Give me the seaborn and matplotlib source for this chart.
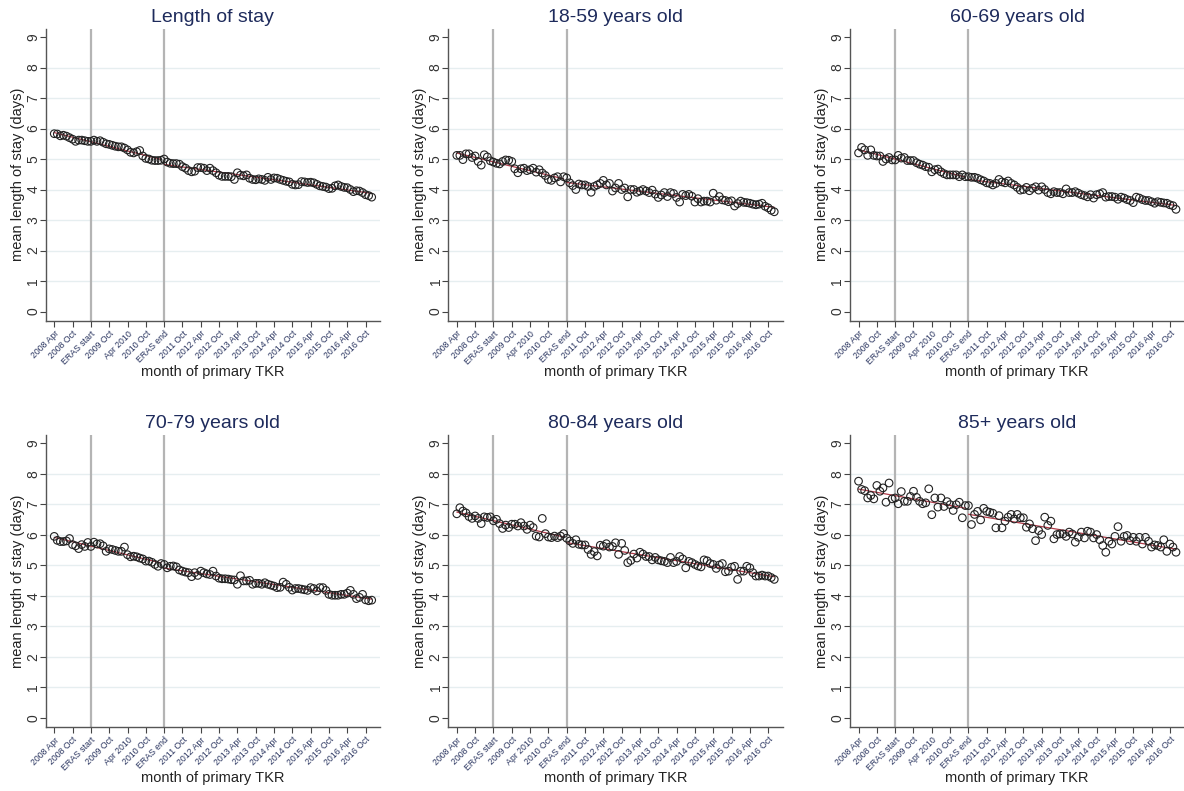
import numpy as np
import pandas as pd
import matplotlib
matplotlib.use("Agg")
import matplotlib.pyplot as plt
import seaborn as sns

# months since 2008 Apr (0 .. 104 -> 2016 Dec)
months = list(range(105))
eras_start = 12
eras_end = 36

tick_pos = [0, 6, 12, 18, 24, 30, 36, 42, 48, 54, 60, 66, 72, 78, 84, 90, 96, 102]
tick_labels = ['2008 Apr', '2008 Oct', 'ERAS start', '2009 Oct', 'Apr 2010', '2010 Oct',
               'ERAS end', '2011 Oct', '2012 Apr', '2012 Oct', '2013 Apr', '2013 Oct',
               '2014 Apr', '2014 Oct', '2015 Apr', '2015 Oct', '2016 Apr', '2016 Oct']

titles = ['Length of stay', '18-59 years old', '60-69 years old',
          '70-79 years old', '80-84 years old', '85+ years old']

los_all = [5.83, 5.82, 5.76, 5.78, 5.75, 5.70, 5.65, 5.58, 5.62, 5.62, 5.60, 5.58,
           5.58, 5.62, 5.58, 5.60, 5.55, 5.50, 5.48, 5.45, 5.42, 5.40, 5.40, 5.36,
           5.30, 5.22, 5.20, 5.24, 5.28, 5.10, 5.02, 5.00, 4.96, 4.95, 4.95, 4.96,
           5.00, 4.90, 4.86, 4.85, 4.85, 4.83, 4.75, 4.70, 4.62, 4.58, 4.60, 4.72,
           4.72, 4.70, 4.62, 4.70, 4.62, 4.55, 4.47, 4.43, 4.43, 4.43, 4.42, 4.33,
           4.55, 4.47, 4.45, 4.48, 4.37, 4.33, 4.32, 4.35, 4.33, 4.30, 4.40, 4.33,
           4.38, 4.37, 4.33, 4.30, 4.27, 4.25, 4.17, 4.15, 4.16, 4.26, 4.25, 4.23,
           4.24, 4.22, 4.17, 4.12, 4.10, 4.08, 4.03, 4.04, 4.12, 4.15, 4.10, 4.07,
           4.06, 4.00, 3.93, 3.96, 3.95, 3.90, 3.83, 3.80, 3.75]

los_18_59 = [5.12, 5.12, 4.98, 5.17, 5.17, 5.05, 5.10, 4.92, 4.80, 5.14, 5.07, 4.94,
             4.90, 4.86, 4.84, 4.92, 4.97, 4.96, 4.92, 4.68, 4.55, 4.68, 4.70, 4.62,
             4.65, 4.70, 4.57, 4.65, 4.54, 4.46, 4.33, 4.30, 4.38, 4.42, 4.25, 4.42,
             4.38, 4.22, 4.13, 4.00, 4.18, 4.15, 4.15, 4.10, 3.91, 4.10, 4.15, 4.20,
             4.30, 4.15, 4.20, 3.95, 4.05, 4.20, 4.00, 4.05, 3.76, 4.00, 4.00, 3.91,
             3.95, 4.00, 3.95, 3.90, 3.98, 3.85, 3.74, 3.82, 3.90, 3.77, 3.90, 3.87,
             3.74, 3.59, 3.84, 3.80, 3.84, 3.78, 3.59, 3.70, 3.59, 3.62, 3.62, 3.59,
             3.88, 3.65, 3.77, 3.66, 3.64, 3.60, 3.63, 3.46, 3.54, 3.62, 3.58, 3.57,
             3.55, 3.52, 3.50, 3.52, 3.55, 3.45, 3.40, 3.32, 3.27]

los_60_69 = [5.20, 5.38, 5.30, 5.12, 5.30, 5.12, 5.10, 5.10, 4.92, 5.00, 5.05, 4.97,
             4.97, 5.12, 5.03, 5.05, 4.95, 4.95, 4.95, 4.88, 4.83, 4.80, 4.75, 4.73,
             4.58, 4.65, 4.67, 4.58, 4.52, 4.48, 4.48, 4.48, 4.48, 4.42, 4.48, 4.42,
             4.42, 4.40, 4.40, 4.37, 4.32, 4.28, 4.22, 4.20, 4.15, 4.20, 4.33, 4.25,
             4.22, 4.28, 4.20, 4.15, 4.07, 3.98, 4.00, 4.07, 3.96, 4.04, 4.09, 3.98,
             4.09, 4.00, 3.90, 3.86, 3.93, 3.90, 3.90, 3.86, 4.02, 3.90, 3.90, 3.93,
             3.88, 3.83, 3.80, 3.76, 3.83, 3.72, 3.83, 3.86, 3.90, 3.75, 3.77, 3.77,
             3.75, 3.68, 3.75, 3.72, 3.67, 3.64, 3.57, 3.75, 3.72, 3.67, 3.64, 3.64,
             3.60, 3.55, 3.60, 3.58, 3.56, 3.55, 3.50, 3.47, 3.35]

los_70_79 = [5.95, 5.82, 5.78, 5.78, 5.80, 5.88, 5.68, 5.64, 5.55, 5.68, 5.62, 5.75,
             5.62, 5.76, 5.70, 5.71, 5.64, 5.46, 5.54, 5.52, 5.49, 5.46, 5.46, 5.60,
             5.35, 5.28, 5.30, 5.28, 5.24, 5.21, 5.14, 5.14, 5.10, 5.03, 4.97, 5.06,
             5.03, 4.92, 4.97, 4.98, 4.95, 4.85, 4.81, 4.78, 4.76, 4.63, 4.76, 4.67,
             4.81, 4.76, 4.72, 4.70, 4.81, 4.65, 4.58, 4.56, 4.56, 4.55, 4.53, 4.52,
             4.38, 4.66, 4.49, 4.49, 4.51, 4.38, 4.41, 4.41, 4.38, 4.43, 4.38, 4.35,
             4.32, 4.27, 4.28, 4.45, 4.38, 4.28, 4.19, 4.24, 4.24, 4.22, 4.20, 4.18,
             4.27, 4.24, 4.16, 4.27, 4.27, 4.18, 4.05, 4.02, 4.02, 4.02, 4.05, 4.05,
             4.09, 4.18, 4.05, 3.91, 3.95, 4.05, 3.87, 3.84, 3.86]

los_80_84 = [6.69, 6.89, 6.78, 6.72, 6.60, 6.54, 6.62, 6.54, 6.37, 6.59, 6.57, 6.59,
             6.46, 6.51, 6.37, 6.21, 6.32, 6.24, 6.35, 6.35, 6.29, 6.40, 6.29, 6.18,
             6.32, 6.24, 5.96, 5.93, 6.54, 6.04, 5.93, 5.91, 5.96, 5.91, 5.96, 6.04,
             5.89, 5.80, 5.72, 5.84, 5.69, 5.67, 5.67, 5.52, 5.36, 5.45, 5.31, 5.66,
             5.63, 5.71, 5.60, 5.62, 5.74, 5.36, 5.72, 5.49, 5.09, 5.16, 5.37, 5.24,
             5.43, 5.37, 5.29, 5.29, 5.18, 5.26, 5.18, 5.15, 5.13, 5.09, 5.26, 5.09,
             5.13, 5.29, 5.21, 4.92, 5.13, 5.09, 5.03, 4.98, 4.95, 5.18, 5.15, 5.06,
             5.03, 4.90, 5.01, 5.06, 4.79, 4.81, 4.94, 4.97, 4.54, 4.81, 4.81, 4.97,
             4.92, 4.76, 4.65, 4.65, 4.68, 4.65, 4.65, 4.60, 4.54]

los_85plus = [7.76, 7.49, 7.45, 7.21, 7.29, 7.18, 7.62, 7.43, 7.54, 7.07,
              7.70, 7.18, 7.21, 7.02, 7.42, 7.10, 7.10, 7.26, 7.43, 7.23,
              7.10, 7.02, 7.05, 7.51, 6.66, 7.21, 6.91, 7.21, 6.93, 7.09,
              6.99, 6.80, 6.99, 7.07, 6.56, 6.96, 6.96, 6.34, 6.67, 6.77,
              6.49, 6.87, 6.77, 6.74, 6.71, 6.23, 6.63, 6.23, 6.45, 6.58,
              6.67, 6.52, 6.67, 6.56, 6.56, 6.25, 6.36, 6.20, 5.81, 6.14,
              6.01, 6.58, 6.31, 6.45, 5.87, 6.01, 6.03, 6.03, 5.95, 6.09,
              6.03, 5.76, 5.92, 6.09, 5.90, 6.12, 6.09, 5.90, 6.01, 5.84,
              5.65, 5.43, 5.79, 5.70, 5.95, 6.27, 5.79, 5.95, 5.98, 5.81,
              5.92, 5.79, 5.92, 5.70, 5.92, 5.79, 5.60, 5.67, 5.65, 5.60,
              5.84, 5.46, 5.70, 5.60, 5.43]

series = [los_all, los_18_59, los_60_69, los_70_79, los_80_84, los_85plus]

sns.set_style("white")
plt.rcParams['font.family'] = ['Liberation Sans', 'DejaVu Sans']

fig = plt.figure(figsize=(11.84, 7.91), dpi=100)

lefts = [0.0386, 0.3786, 0.7179]
bottoms = [0.5946, 0.0809]
w, h = 0.2823, 0.369

navy = '#1e2b5c'
for i, (vals, title) in enumerate(zip(series, titles)):
    ax = fig.add_axes([lefts[i % 3], bottoms[i // 3], w, h])
    df = pd.DataFrame({'month': months, 'los': vals})

    for yv in range(1, 9):
        ax.axhline(yv, color='#e6eef0', lw=1.0, zorder=0)
    for xv in (eras_start, eras_end):
        ax.axvline(xv, color='#b4b4b4', lw=1.6, zorder=1)

    # segmented fit: before / after ERAS end
    pre = df[df['month'] < eras_end]
    post = df[df['month'] >= eras_end]
    for seg in (pre, post):
        sns.regplot(data=seg, x='month', y='los', scatter=False, ci=None, truncate=True,
                    color='#b03a48', line_kws={'lw': 0.9, 'zorder': 2}, ax=ax)

    sns.scatterplot(data=df, x='month', y='los', marker='o', s=30,
                    facecolor='none', edgecolor='#222222', linewidth=0.8, zorder=3, ax=ax)

    ax.set_xlim(-2.8, 106.7)
    ax.set_ylim(-0.3, 9.27)
    ax.set_yticks(range(10))
    ax.set_yticklabels([str(v) for v in range(10)], rotation=90, va='center',
                       fontsize=10, color='#333333')
    ax.set_xticks(tick_pos)
    ax.set_xticklabels(tick_labels, rotation=45, ha='right', rotation_mode='anchor',
                       fontsize=6.3, color='#2a3560')
    ax.tick_params(axis='both', direction='out', length=4, width=0.8, color='#444444',
                   left=True, bottom=True)
    ax.tick_params(axis='x', pad=2)
    ax.tick_params(axis='y', pad=0)

    ax.set_title(title, fontsize=14, color=navy, pad=5)
    ax.set_xlabel('month of primary TKR', fontsize=10.5, color='#222222', labelpad=-1)
    ax.set_ylabel('mean length of stay (days)', fontsize=10.5, color='#222222', labelpad=1)

    sns.despine(ax=ax)
    for sp in ('left', 'bottom'):
        ax.spines[sp].set_color('#555555')
        ax.spines[sp].set_linewidth(1.0)

fig.savefig('out.png', dpi=100, facecolor='white')
